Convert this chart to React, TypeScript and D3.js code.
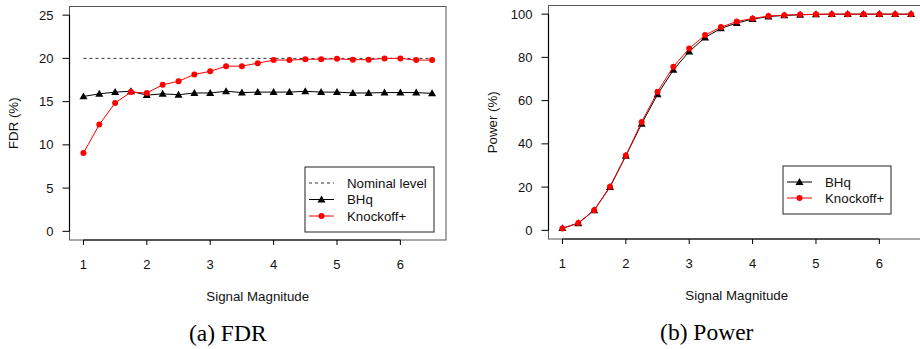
import React from "react";
import * as d3 from "d3";

const signal = [1, 1.25, 1.5, 1.75, 2, 2.25, 2.5, 2.75, 3, 3.25, 3.5, 3.75, 4, 4.25, 4.5, 4.75, 5, 5.25, 5.5, 5.75, 6, 6.25, 6.5];

const fdrBHq = [15.6, 15.9, 16.1, 16.2, 15.75, 15.9, 15.8, 16.0, 16.0, 16.2, 16.05, 16.1, 16.1, 16.1, 16.2, 16.1, 16.1, 16.0, 16.0, 16.05, 16.05, 16.05, 15.95];
const fdrKnockoff = [9.05, 12.35, 14.85, 16.1, 16.0, 16.95, 17.35, 18.15, 18.5, 19.1, 19.1, 19.45, 19.8, 19.8, 19.9, 19.9, 19.95, 19.85, 19.85, 20.0, 20.0, 19.8, 19.8];
const nominalLevel = 20;

const powerBHq = [1.0, 3.3, 9.3, 20.0, 34.5, 49.3, 62.9, 74.2, 82.7, 89.2, 93.4, 95.9, 97.7, 98.9, 99.4, 99.7, 99.9, 100, 100, 100, 100, 100, 100];
const powerKnockoff = [0.9, 3.4, 9.3, 20.2, 34.6, 50.1, 64.1, 75.7, 84.1, 90.3, 94.0, 96.6, 98.0, 99.1, 99.5, 99.8, 99.9, 100, 100, 100, 100, 100, 100];

const xTicks = [1, 2, 3, 4, 5, 6];
const fdrTicks = [0, 5, 10, 15, 20, 25];
const powerTicks = [0, 20, 40, 60, 80, 100];

const SANS = "'Liberation Sans', Arial, Helvetica, sans-serif";
const SERIF = "'Liberation Serif', 'Times New Roman', serif";
const RED = "#ff0000";

type Series = { name: string; values: number[]; color: string; marker: "tri" | "circle" };

function Marker({ x, y, kind, color }: { x: number; y: number; kind: "tri" | "circle"; color: string }) {
  if (kind === "circle") return <circle cx={x} cy={y} r={3} fill={color} />;
  const s = d3.symbol().type(d3.symbolTriangle).size(28)();
  return <path d={s || ""} transform={`translate(${x},${y + 0.6})`} fill={color} />;
}

function Panel({
  left, right, top, bottom, yMax, yTicks, yLabel, series, nominal, caption, legend,
}: {
  left: number; right: number; top: number; bottom: number; yMax: number; yTicks: number[];
  yLabel: string; series: Series[]; nominal?: number; caption: string;
  legend: { x0: number; x1: number; y0: number; y1: number; rows: number[] };
}) {
  const xMin = 1, xMax = 6.5;
  const xPad = (xMax - xMin) * 0.04;
  const yPad = yMax * 0.04;
  const x = d3.scaleLinear().domain([xMin - xPad, xMax + xPad]).range([left, right]);
  const y = d3.scaleLinear().domain([-yPad, yMax + yPad]).range([bottom, top]);
  const line = d3.line<number>().x((_, i) => x(signal[i])).y((v) => y(v));
  const midY = (top + bottom) / 2;
  const midX = (left + right) / 2;
  const legItems: { label: string; dash?: boolean; s?: Series }[] = [];
  if (nominal !== undefined) legItems.push({ label: "Nominal level", dash: true });
  series.forEach((s) => legItems.push({ label: s.name, s }));
  const lx0 = legend.x0 + 4, lx1 = legend.x0 + 29;
  return (
    <g>
      <rect x={left} y={top} width={right - left} height={bottom - top} fill="none" stroke="#555" strokeWidth={1} />
      {/* y axis */}
      <line x1={left} x2={left} y1={y(yTicks[0])} y2={y(yTicks[yTicks.length - 1])} stroke="#000" strokeWidth={1.2} />
      {yTicks.map((t) => (
        <g key={t}>
          <line x1={left - 7} x2={left} y1={y(t)} y2={y(t)} stroke="#000" />
          <text x={left - 16} y={y(t)} dy="0.35em" textAnchor="end" fontFamily={SANS} fontSize={13} fill="#111">{t}</text>
        </g>
      ))}
      {/* x axis */}
      <line x1={x(xTicks[0])} x2={x(xTicks[xTicks.length - 1])} y1={bottom} y2={bottom} stroke="#000" strokeWidth={1.2} />
      {xTicks.map((t) => (
        <g key={t}>
          <line x1={x(t)} x2={x(t)} y1={bottom} y2={bottom + 5} stroke="#000" />
          <text x={x(t)} y={bottom + 29} textAnchor="middle" fontFamily={SANS} fontSize={13} fill="#111">{t}</text>
        </g>
      ))}
      <text x={midX} y={bottom + 61} textAnchor="middle" fontFamily={SANS} fontSize={13.3} fill="#111">Signal Magnitude</text>
      <text transform={`translate(${left - 56},${midY}) rotate(-90)`} textAnchor="middle" dy="0.35em" fontFamily={SANS} fontSize={13.3} fill="#111">{yLabel}</text>
      <text x={midX - 30} y={bottom + 101} textAnchor="middle" fontFamily={SERIF} fontSize={23.5} fill="#000">{caption}</text>
      {nominal !== undefined && (
        <line x1={x(1)} x2={x(6.5)} y1={y(nominal)} y2={y(nominal)} stroke="#333" strokeDasharray="3,3" strokeWidth={1} />
      )}
      {series.map((s) => (
        <g key={s.name}>
          <path d={line(s.values) || ""} fill="none" stroke={s.color} strokeWidth={1} />
          {s.values.map((v, i) => (
            <Marker key={i} x={x(signal[i])} y={y(v)} kind={s.marker} color={s.color} />
          ))}
        </g>
      ))}
      {/* legend */}
      <rect x={legend.x0} y={legend.y0} width={legend.x1 - legend.x0} height={legend.y1 - legend.y0} fill="#fff" stroke="#222" strokeWidth={1} />
      {legItems.map((it, i) => {
        const ly = legend.rows[i];
        return (
          <g key={it.label}>
            {it.dash ? (
              <line x1={lx0} x2={lx1} y1={ly} y2={ly} stroke="#333" strokeDasharray="3,3" />
            ) : (
              <>
                <line x1={lx0} x2={lx1} y1={ly} y2={ly} stroke={it.s!.color} strokeWidth={1} />
                <Marker x={(lx0 + lx1) / 2} y={ly} kind={it.s!.marker} color={it.s!.color} />
              </>
            )}
            <text x={legend.x0 + 42} y={ly} dy="0.35em" fontFamily={SANS} fontSize={13.3} fill="#111">{it.label}</text>
          </g>
        );
      })}
    </g>
  );
}

export default function App() {
  const fdrSeries: Series[] = [
    { name: "BHq", values: fdrBHq, color: "#000", marker: "tri" },
    { name: "Knockoff+", values: fdrKnockoff, color: RED, marker: "circle" },
  ];
  const powerSeries: Series[] = [
    { name: "BHq", values: powerBHq, color: "#000", marker: "tri" },
    { name: "Knockoff+", values: powerKnockoff, color: RED, marker: "circle" },
  ];
  return (
    <svg width={920} height={349} style={{ position: "absolute", left: 0, top: 0, background: "#fff" }}>
      <rect width={920} height={349} fill="#fff" />
      <Panel left={69.5} right={446} top={6.5} bottom={240} yMax={25} yTicks={fdrTicks} yLabel="FDR (%)"
        series={fdrSeries} nominal={nominalLevel} caption="(a) FDR"
        legend={{ x0: 305, x1: 434, y0: 167, y1: 232, rows: [183, 199.5, 216] }} />
      <Panel left={548.5} right={925} top={5.5} bottom={239} yMax={100} yTicks={powerTicks} yLabel="Power (%)"
        series={powerSeries} caption="(b) Power"
        legend={{ x0: 783, x1: 891, y0: 166, y1: 214, rows: [182, 198] }} />
    </svg>
  );
}
